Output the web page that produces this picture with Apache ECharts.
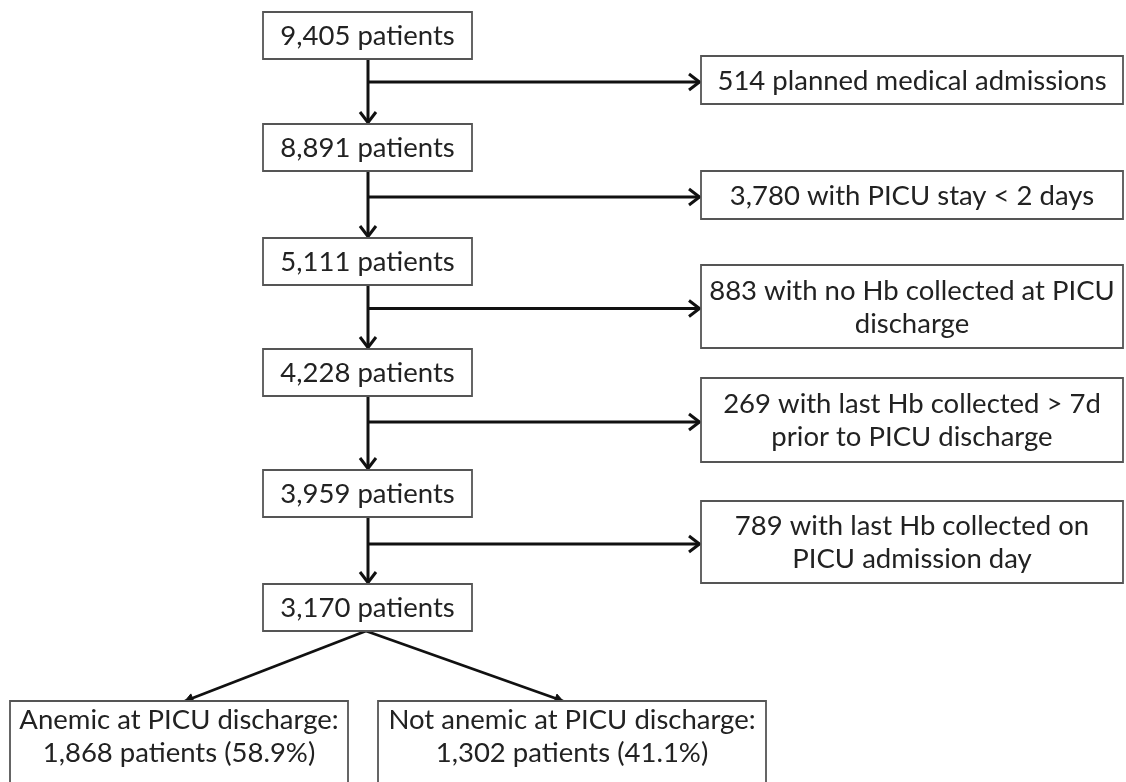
<!DOCTYPE html>
<html>
<head>
<meta charset="utf-8">
<script src="https://cdn.jsdelivr.net/npm/echarts@6/dist/echarts.min.js"></script>
<style>
html,body{margin:0;padding:0;background:#fff;}
#chart{width:1126px;height:782px;}
</style>
</head>
<body>
<div id="chart"></div>
<script>
// ---- data ----
const mainCounts = [9405, 8891, 5111, 4228, 3959, 3170];
const excludedCounts = [514, 3780, 883, 269, 789];
const excludedReasons = [
  'planned medical admissions',
  'with PICU stay < 2 days',
  'with no Hb collected at PICU\ndischarge',
  'with last Hb collected > 7d\nprior to PICU discharge',
  'with last Hb collected on\nPICU admission day'
];
const outcomeNames = ['Anemic at PICU discharge:', 'Not anemic at PICU discharge:'];
const outcomeCounts = [1868, 1302];
const outcomePercents = [58.9, 41.1];

// ---- layout (diagram units = pixels of the canvas) ----
const layout = {
  main: { x0: 263, x1: 472, h: 47, tops: [12, 124, 238, 349, 470, 584] },
  excl: { x0: 701, x1: 1123, boxes: [[56, 104], [171, 219], [265, 348], [378, 462], [501, 583]] },
  outcome: { boxes: [[10, 348], [378, 766]], y0: 701, y1: 790, tipX: [185, 563] },
  trunkX: 368,
  branchOffset: 2
};

const fmt = n => n.toLocaleString('en-US');

// boxes: [x0, y0, x1, y1]
const boxData = [];
const boxText = [];
mainCounts.forEach((c, i) => {
  const t = layout.main.tops[i];
  boxData.push([layout.main.x0, t, layout.main.x1, t + layout.main.h]);
  boxText.push(fmt(c) + ' patients');
});
excludedCounts.forEach((c, i) => {
  const b = layout.excl.boxes[i];
  boxData.push([layout.excl.x0, b[0], layout.excl.x1, b[1]]);
  boxText.push(fmt(c) + ' ' + excludedReasons[i]);
});
outcomeCounts.forEach((c, i) => {
  const b = layout.outcome.boxes[i];
  boxData.push([b[0], layout.outcome.y0, b[1], layout.outcome.y1]);
  boxText.push(outcomeNames[i] + '\n' + fmt(c) + ' patients (' + outcomePercents[i].toFixed(1) + '%)');
});

// connectors: [x1, y1, x2, y2, kind]  kind 0 = chevron, 1 = small filled
const linkData = [];
for (let i = 0; i < mainCounts.length - 1; i++) {
  const yb = layout.main.tops[i] + layout.main.h;
  const yt = layout.main.tops[i + 1];
  linkData.push([layout.trunkX, yb, layout.trunkX, yt, 0]);
}
excludedCounts.forEach((c, i) => {
  const b = layout.excl.boxes[i];
  const y = (b[0] + b[1]) / 2 + layout.branchOffset;
  linkData.push([layout.trunkX, y, layout.excl.x0, y, 0]);
});
const lastBottom = layout.main.tops[mainCounts.length - 1] + layout.main.h;
layout.outcome.tipX.forEach(x => {
  linkData.push([layout.trunkX - 2, lastBottom, x, layout.outcome.y0, 1]);
});

const FONT = '"Lato", "Open Sans", sans-serif';

const chart = echarts.init(document.getElementById('chart'), null, { renderer: 'canvas' });
chart.setOption({
  animation: false,
  backgroundColor: '#ffffff',
  grid: { left: 0, right: 0, top: 0, bottom: 0 },
  xAxis: { type: 'value', min: 0, max: 1126, show: false },
  yAxis: { type: 'value', min: 0, max: 782, inverse: true, show: false },
  series: [
    {
      type: 'custom',
      coordinateSystem: 'cartesian2d',
      data: linkData,
      silent: true,
      z: 1,
      renderItem: function (params, api) {
        const p1 = api.coord([api.value(0), api.value(1)]);
        const p2 = api.coord([api.value(2), api.value(3)]);
        const kind = api.value(4);
        const dx = p2[0] - p1[0], dy = p2[1] - p1[1];
        const len = Math.sqrt(dx * dx + dy * dy);
        const ux = dx / len, uy = dy / len;
        const nx = -uy, ny = ux;
        const children = [];
        if (kind === 0) {
          const L = 12, W = 8;
          children.push({
            type: 'polyline',
            shape: { points: [p1, [p2[0] - ux * 1.5, p2[1] - uy * 1.5]] },
            style: { stroke: '#111', lineWidth: 3, fill: null }
          });
          children.push({
            type: 'polyline',
            shape: { points: [
              [p2[0] - ux * L + nx * W, p2[1] - uy * L + ny * W],
              [p2[0] - ux * 1.5, p2[1] - uy * 1.5],
              [p2[0] - ux * L - nx * W, p2[1] - uy * L - ny * W]
            ] },
            style: { stroke: '#111', lineWidth: 3, fill: null, lineJoin: 'miter' }
          });
        } else {
          const L = 8, W = 4.5;
          children.push({
            type: 'polyline',
            shape: { points: [p1, p2] },
            style: { stroke: '#111', lineWidth: 2.8, fill: null }
          });
          children.push({
            type: 'polygon',
            shape: { points: [
              [p2[0] - ux * L + nx * W, p2[1] - uy * L + ny * W],
              [p2[0], p2[1]],
              [p2[0] - ux * L - nx * W, p2[1] - uy * L - ny * W]
            ] },
            style: { fill: '#111', stroke: '#111', lineWidth: 1 }
          });
        }
        return { type: 'group', children: children };
      }
    },
    {
      type: 'custom',
      coordinateSystem: 'cartesian2d',
      data: boxData,
      silent: true,
      z: 2,
      renderItem: function (params, api) {
        const a = api.coord([api.value(0), api.value(1)]);
        const b = api.coord([api.value(2), api.value(3)]);
        const x = Math.min(a[0], b[0]), y = Math.min(a[1], b[1]);
        const w = Math.abs(b[0] - a[0]), h = Math.abs(b[1] - a[1]);
        return {
          type: 'group',
          children: [
            {
              type: 'rect',
              shape: { x: x, y: y, width: w, height: h },
              style: { fill: '#ffffff', stroke: '#555555', lineWidth: 1.8 }
            },
            {
              type: 'text',
              style: {
                text: boxText[params.dataIndex],
                x: x + w / 2,
                y: (params.dataIndex >= mainCounts.length + excludedCounts.length) ? y + 36 : y + h / 2 + 1,
                align: 'center',
                verticalAlign: 'middle',
                fontFamily: FONT,
                fontSize: 27.5,
                lineHeight: 33,
                fill: '#222222'
              }
            }
          ]
        };
      }
    }
  ]
});
</script>
</body>
</html>
